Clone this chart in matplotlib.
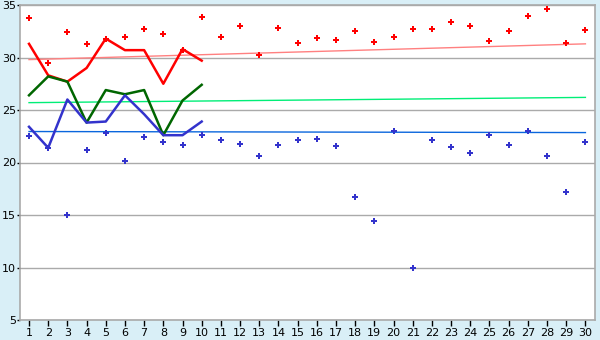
import matplotlib
matplotlib.use("Agg")
import matplotlib.pyplot as plt

# x positions
days = list(range(1, 31))
days_first = list(range(1, 11))

# scatter series
red_points = [33.8, 29.5, 32.4, 31.3, 31.8, 32.0, 32.7, 32.2, 30.7, 33.9,
              32.0, 33.0, 30.2, 32.8, 31.4, 31.9, 31.7, 32.5, 31.5, 32.0,
              32.7, 32.7, 33.4, 33.0, 31.6, 32.5, 34.0, 34.6, 31.4, 32.6]
blue_points = [22.5, 21.4, 15.0, 21.2, 22.8, 20.1, 22.4, 22.0, 21.7, 22.6,
               22.1, 21.8, 20.6, 21.7, 22.1, 22.2, 21.6, 16.7, 14.4, 23.0,
               10.0, 22.1, 21.5, 20.9, 22.6, 21.7, 23.0, 20.6, 17.2, 22.0]

# thick lines over the first ten days
red_line = [31.3, 28.3, 27.7, 29.0, 31.8, 30.7, 30.7, 27.5, 30.8, 29.7]
green_line = [26.4, 28.2, 27.7, 23.8, 26.9, 26.5, 26.9, 22.6, 25.9, 27.4]
blue_line = [23.4, 21.4, 26.0, 23.8, 23.9, 26.4, 24.6, 22.6, 22.6, 23.9]

# trend lines (start value at day 1, end value at day 30)
trend_days = [1, 30]
red_trend = [29.8, 31.3]
green_trend = [25.7, 26.2]
blue_trend = [22.95, 22.85]

fig = plt.figure(figsize=(6, 3.4), dpi=100)
fig.patch.set_facecolor("#D9EFF7")
ax = fig.add_axes([20 / 600, 20 / 340, 575 / 600, 315 / 340])
ax.set_facecolor("white")

ax.plot(trend_days, red_trend, color="#FF8080", lw=1.0, zorder=2)
ax.plot(trend_days, green_trend, color="#00EE77", lw=1.0, zorder=2)
ax.plot(trend_days, blue_trend, color="#0A66DD", lw=1.0, zorder=2)

ax.plot(days_first, red_line, color="#FF0000", lw=1.8, zorder=3)
ax.plot(days_first, green_line, color="#006600", lw=1.8, zorder=3)
ax.plot(days_first, blue_line, color="#3333CC", lw=1.8, zorder=3)

ax.scatter(days, red_points, marker="P", s=18, color="#FF0000", linewidths=0, zorder=4)
ax.scatter(days, blue_points, marker="P", s=18, color="#3333CC", linewidths=0, zorder=4)

ax.set_xlim(0.53, 30.5)
ax.set_ylim(5, 35)
ax.set_xticks(days)
ax.set_yticks(range(5, 36, 5))
ax.grid(axis="y", color="#AAAAAA", lw=1)
ax.set_axisbelow(True)

for side in ["left", "bottom", "top", "right"]:
    ax.spines[side].set_color("#AAAAAA")
    ax.spines[side].set_linewidth(1.2)

ax.tick_params(axis="x", direction="out", length=4, width=1, color="black",
               labelsize=8, pad=2)
ax.tick_params(axis="y", direction="out", length=2, width=1, color="black",
               labelsize=8, pad=1)

fig.savefig("out.png", dpi=100, facecolor=fig.get_facecolor())
